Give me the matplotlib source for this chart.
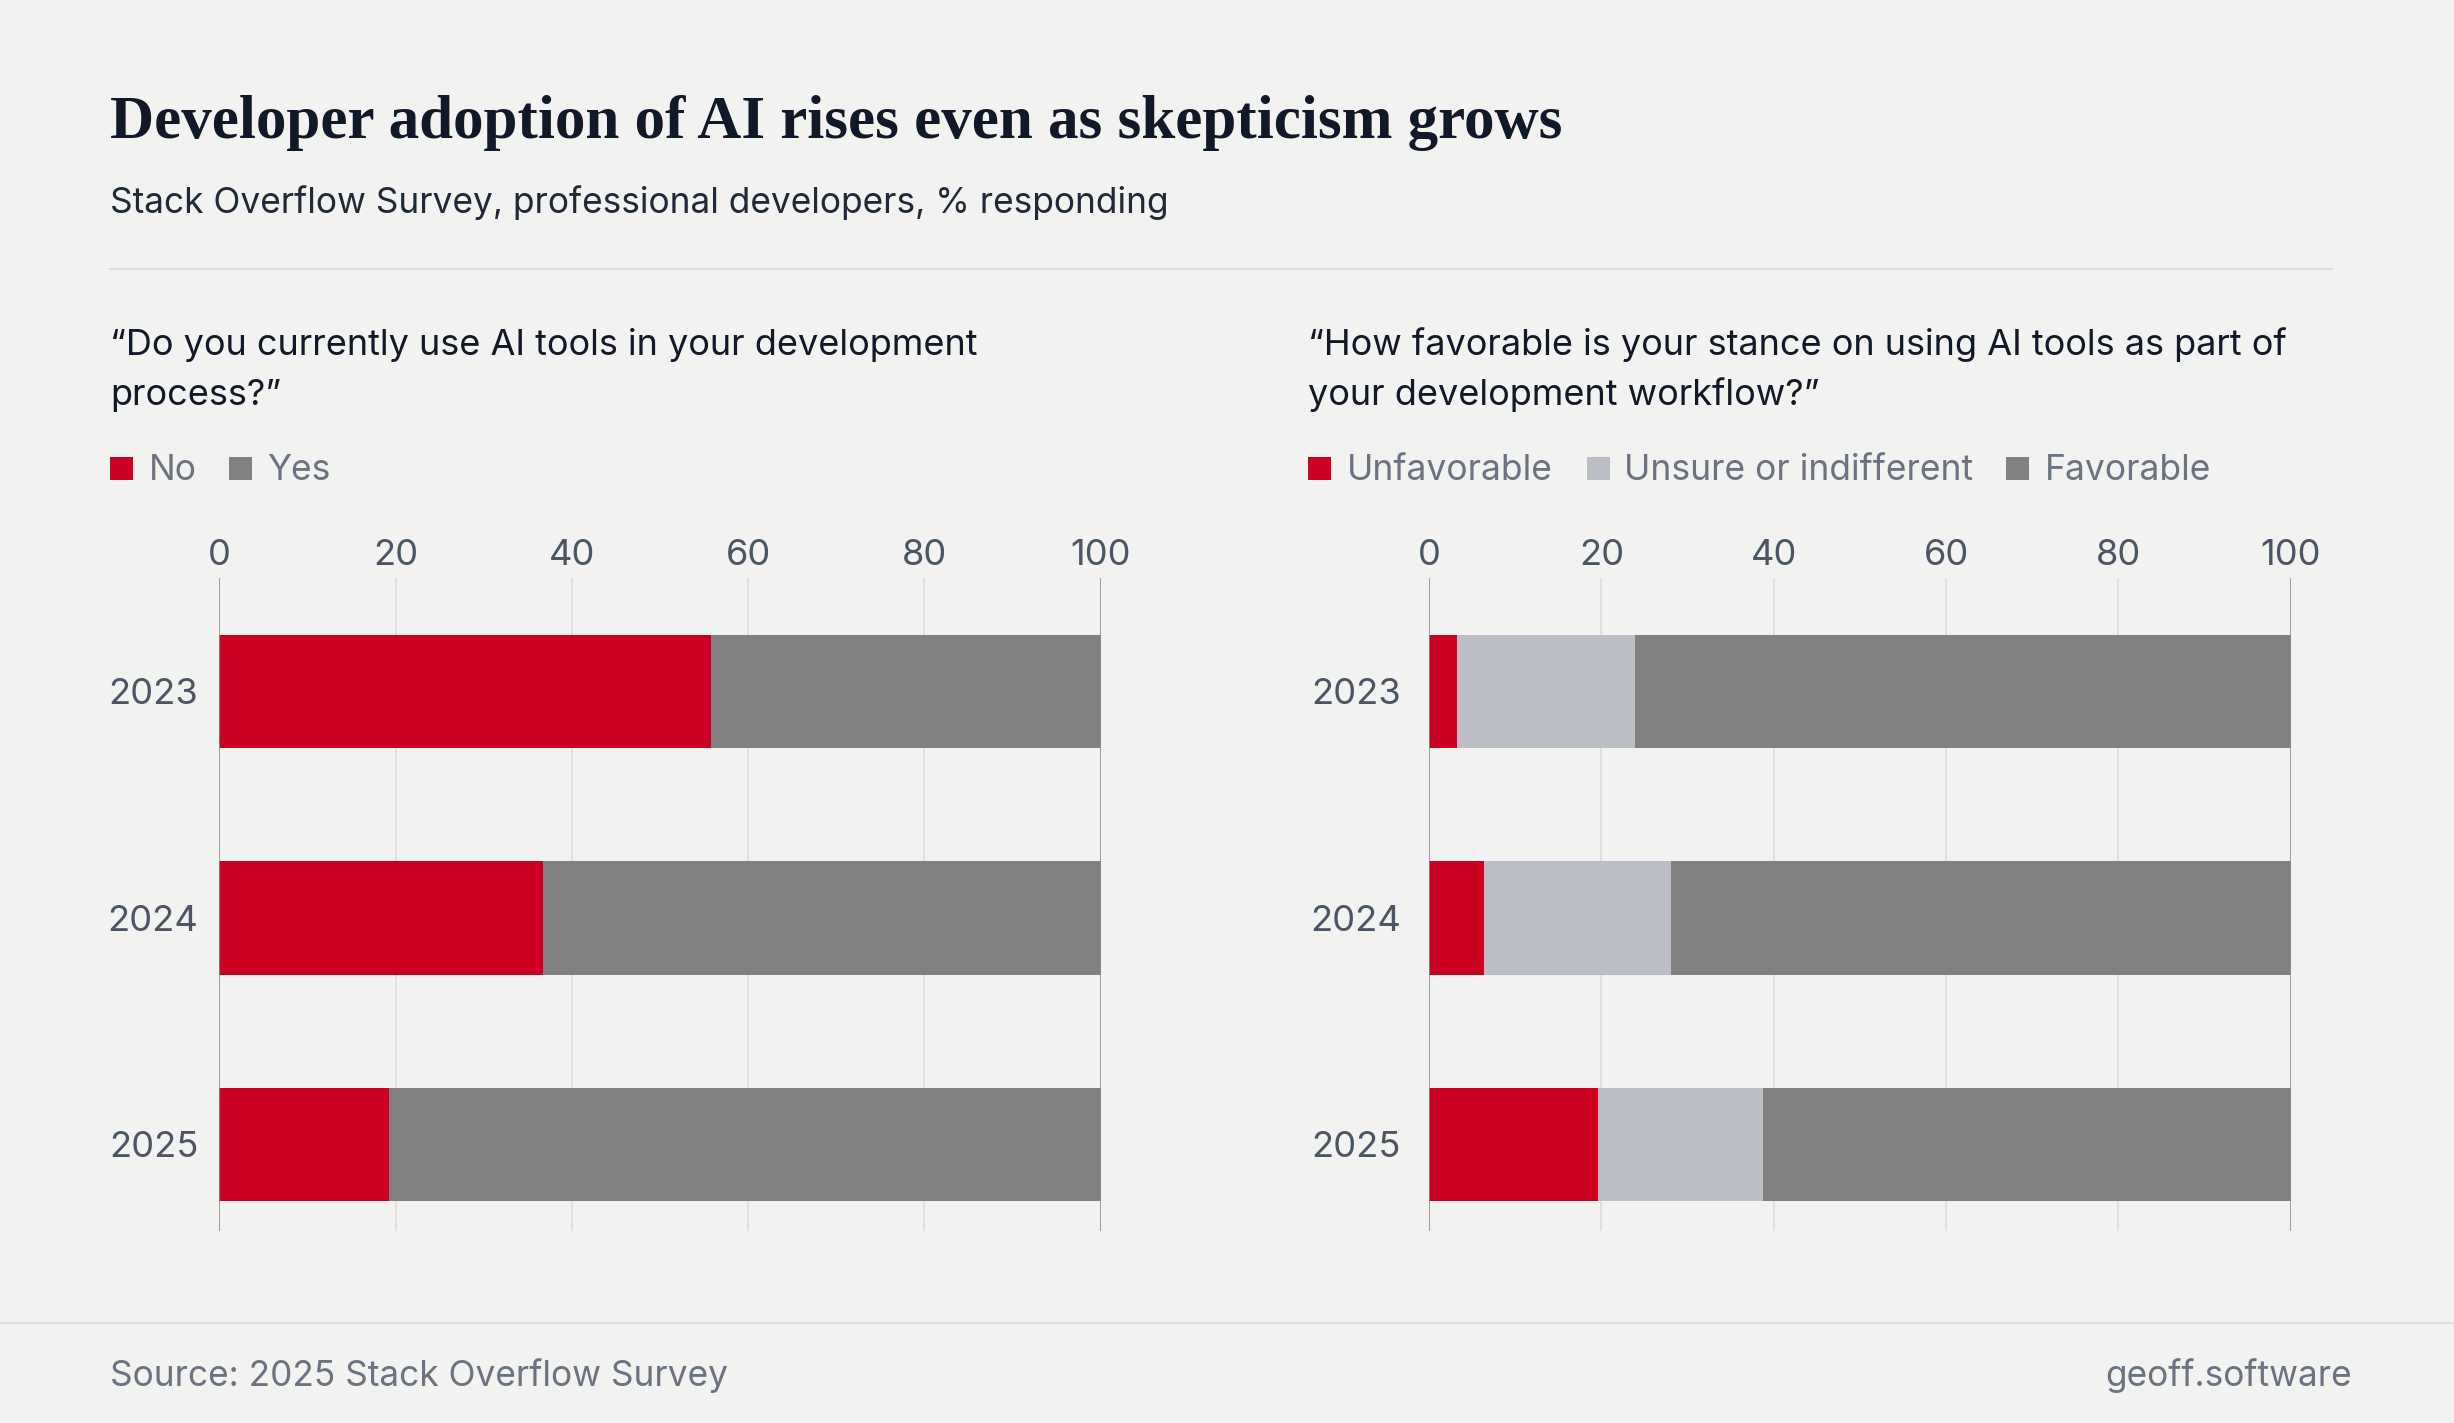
import matplotlib
matplotlib.use("Agg")
import matplotlib.pyplot as plt
from matplotlib.patches import Rectangle
from matplotlib.lines import Line2D
import numpy as np

# ---------------- data ----------------
years = ["2023", "2024", "2025"]
use_labels = ["No", "Yes"]
use_no = [55.8, 36.7, 19.3]
use_yes = [44.2, 63.3, 80.7]

stance_labels = ["Unfavorable", "Unsure or indifferent", "Favorable"]
stance_unfav = [3.2, 6.4, 19.6]
stance_unsure = [20.7, 21.7, 19.2]
stance_fav = [76.1, 71.9, 61.2]

x_ticks = [0, 20, 40, 60, 80, 100]

title = "Developer adoption of AI rises even as skepticism grows"
subtitle = "Stack Overflow Survey, professional developers, % responding"
q_left = ["\u201cDo you currently use AI tools in your development", "process?\u201d"]
q_right = ["\u201cHow favorable is your stance on using AI tools as part of",
           "your development workflow?\u201d"]
source = "Source: 2025 Stack Overflow Survey"
credit = "geoff.software"

# ---------------- style ----------------
BG = "#f2f2f0"
RED = "#cc0022"
GRAY = "#818181"
LIGHT = "#bbbec4"
DARK = "#111827"
TICK = "#4b5563"
MUTED = "#6b7280"
SANS = ["Inter", "DejaVu Sans"]
SERIF = ["Liberation Serif", "DejaVu Serif"]

W, H = 2454, 1423
DPI = 100
fig = plt.figure(figsize=(W / DPI, H / DPI), dpi=DPI, facecolor=BG)


def fx(px):
    return px / W


def fy(py):
    return 1 - py / H


def pt(px):
    return px * 72 / DPI


# header
fig.text(fx(110), fy(138), title, family=SERIF, weight="bold", size=pt(61),
         color=DARK, va="baseline", ha="left")
fig.text(fx(110), fy(213), subtitle, family=SANS, size=pt(35.3),
         color="#1f2937", va="baseline", ha="left")
fig.add_artist(Line2D([fx(110), fx(2332)], [fy(269), fy(269)],
                      color="#dcdcdc", lw=pt(2), transform=fig.transFigure))

# footer
fig.add_artist(Line2D([0, 1], [fy(1323), fy(1323)], color="#dcdcdc",
                      lw=pt(2), transform=fig.transFigure))
fig.text(fx(110), fy(1386), source, family=SANS, size=pt(35.3), color=MUTED,
         va="baseline", ha="left")
fig.text(fx(2352), fy(1386), credit, family=SANS, size=pt(35.3), color=MUTED,
         va="baseline", ha="right")


def question(x, lines):
    fig.text(fx(x), fy(355), lines[0], family=SANS, size=pt(36.1), color=DARK,
             va="baseline", ha="left")
    fig.text(fx(x), fy(405), lines[1], family=SANS, size=pt(36.1), color=DARK,
             va="baseline", ha="left")


def legend(x_list, labels, colors):
    for (sx, tx), lab, col in zip(x_list, labels, colors):
        fig.add_artist(Rectangle((fx(sx), fy(480)), fx(23), 23 / H,
                                 facecolor=col, edgecolor="none",
                                 transform=fig.transFigure))
        fig.text(fx(tx), fy(480), lab, family=SANS, size=pt(35.5), color=MUTED,
                 va="baseline", ha="left")


question(110, q_left)
question(1308, q_right)
legend([(110, 149), (229, 267)], use_labels, [RED, GRAY])
legend([(1308, 1347), (1587, 1624), (2006, 2045)], stance_labels,
       [RED, LIGHT, GRAY])


def make_axes(x0, x1, pad_px):
    top, bottom = 578, 1230.6
    ax = fig.add_axes([fx(x0), fy(bottom), fx(x1 - x0), (bottom - top) / H])
    ax.set_facecolor("none")
    ax.set_xlim(0, 100)
    ax.set_ylim(2.38, -0.5)
    for s in ax.spines.values():
        s.set_visible(False)
    ax.xaxis.tick_top()
    ax.set_xticks(x_ticks)
    ax.set_xticklabels([str(t) for t in x_ticks])
    ax.tick_params(axis="x", length=0, pad=pt(6), labelsize=pt(36.3),
                   labelcolor=TICK)
    ax.set_yticks(range(len(years)))
    ax.set_yticklabels(years)
    ax.tick_params(axis="y", length=0, pad=pt(pad_px), labelsize=pt(36.3),
                   labelcolor=TICK)
    for lab in ax.get_xticklabels() + ax.get_yticklabels():
        lab.set_family(SANS)
    for t in x_ticks:
        edge = t in (0, 100)
        ax.axvline(t, color="#8a8a8a" if edge else "#dcdcdc",
                   lw=pt(1.6), zorder=0 if not edge else 3)
    return ax


y = np.arange(len(years))
axL = make_axes(219.3, 1100.7, 21)
axL.barh(y, use_no, height=0.5, color=RED, zorder=2)
axL.barh(y, use_yes, left=use_no, height=0.5, color=GRAY, zorder=2)

axR = make_axes(1429, 2290.7, 28)
left = np.zeros(len(years))
for vals, col in zip([stance_unfav, stance_unsure, stance_fav],
                     [RED, LIGHT, GRAY]):
    axR.barh(y, vals, left=left, height=0.5, color=col, zorder=2)
    left = left + np.array(vals)

fig.savefig("out.png", dpi=DPI, facecolor=BG)
